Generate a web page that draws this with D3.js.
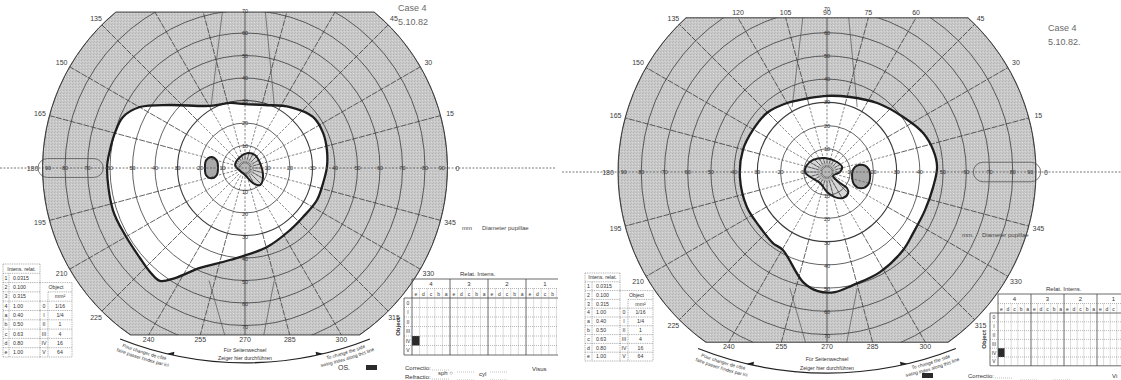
<!DOCTYPE html>
<html>
<head>
<meta charset="utf-8">
<script src="https://cdn.jsdelivr.net/npm/d3@7"></script>
<style>
  body { margin: 0; background: #fff; }
  svg { display: block; font-family: "Liberation Sans", Arial, sans-serif; }
</style>
</head>
<body>
<svg id="sheet" width="1121" height="380"></svg>
<script>
// ---------- Goldmann grid ----------
const ringDeg = [10, 20, 30, 40, 50, 60, 70, 80, 90];
const meridianDeg = d3.range(0, 360, 15);
const horizRingLabels = [10, 20, 30, 40, 50, 60, 70, 80, 90];
const vertRingLabels = [10, 20, 30, 40, 50, 60, 70];

// ---------- Case text ----------
const caseTitle = "Case 4";
const caseDateOS = "5.10.82";
const caseDateOD = "5.10.82.";

// ---------- Isopters and scotomas, [horizontal deg, vertical deg] ----------
const osIsopter = [
  [-61.3, 0], [-60, 8], [-57.8, 15.6], [-54.2, 22.7], [-46.7, 27.1], [-33.3, 28],
  [-15.6, 27.6], [-6.7, 28.9], [0, 28.4], [8.9, 28], [20, 27.1], [30.2, 22.7],
  [34.7, 15.6], [36.4, 8], [36.4, 0.4], [34.7, -6.7], [32, -14.2], [25.8, -21.8],
  [20, -27.6], [9.8, -35.1], [-6.7, -40.9], [-20, -44.4], [-31.1, -48.9],
  [-37.8, -50.2], [-42.2, -46.2], [-46.7, -40], [-53.3, -29.8], [-58.7, -18.7]
];
const osBlindSpot = [
  [-17.8, 0.2], [-17.3, 3.4], [-14.9, 4.9], [-12.6, 3.4], [-12.0, 0.2],
  [-12.6, -3.2], [-14.9, -4.6], [-17.3, -3.2]
];
const osCentralScotoma = [
  [-4.4, 1.3], [-2.2, 4.9], [1.3, 6.7], [4.4, 5.8], [6.7, 2.2], [8.0, -4.0],
  [6.7, -7.6], [3.6, -6.7], [0, -3.1], [-3.6, 0]
];

const odIsopter = [
  [0, 32.8], [9.9, 32.3], [21.6, 29.7], [32.8, 23.7], [41.4, 16.8], [45.7, 9.5],
  [47.4, 2.2], [45.7, -6.5], [42.2, -16.4], [37.1, -26.3], [32.8, -33.6],
  [22.8, -43.1], [11.2, -48.7], [3.4, -51.7], [-3.9, -51.3], [-10.3, -47.4],
  [-19.0, -33.6], [-23.3, -30.6], [-28.9, -23.7], [-34.5, -15.1], [-37.5, -2.2],
  [-36.2, 9.5], [-31.9, 18.1], [-25.9, 25.4], [-17.2, 29.7], [-7.3, 31.9]
];
const odBlindSpot = [
  [10.8, -1.9], [11.5, 1.5], [14.7, 3.1], [17.8, 1.5], [18.6, -1.9],
  [17.6, -5.5], [14.7, -7.0], [11.8, -5.5]
];
const odCentralScotoma = [
  [-9.5, 0], [-8.6, 3.0], [-6.0, 5.2], [-0.9, 6.0], [4.3, 4.3], [6.5, 2.2],
  [5.6, 0], [2.6, -1.7], [5.6, -4.7], [8.6, -6.9], [9.1, -9.1], [6.9, -11.2],
  [3.4, -10.8], [0, -8.6], [-3.0, -4.7], [-6.5, -2.6]
];

// ---------- Test-object tables ----------
const filterRows = [["1", "0.0315"], ["2", "0.100"], ["3", "0.315"], ["4", "1.00"],
  ["a", "0.40"], ["b", "0.50"], ["c", "0.63"], ["d", "0.80"], ["e", "1.00"]];
const objectRows = [["0", "1/16"], ["I", "1/4"], ["II", "1"], ["III", "4"], ["IV", "16"], ["V", "64"]];
const intensityGroups = ["4", "3", "2", "1"];
const intensitySteps = ["e", "d", "c", "b", "a"];
const objectSizes = ["0", "I", "II", "III", "IV", "V"];
const testedOS = [["IV", "4", "e"]];
const testedOD = [["IV", "4", "e"]];

// ---------------------------------------------------------------
const svg = d3.select("#sheet");
const defs = svg.append("defs");
const INK = "#3c3c3c";

// fine halftone grey of the printed periphery
const pat = defs.append("pattern").attr("id", "stipple")
  .attr("width", 3).attr("height", 3).attr("patternUnits", "userSpaceOnUse");
pat.append("rect").attr("width", 3).attr("height", 3).attr("fill", "#c9c9c9");
pat.append("rect").attr("width", 1).attr("height", 1).attr("fill", "#b3b3b3");
pat.append("rect").attr("x", 2).attr("y", 1).attr("width", 1).attr("height", 1).attr("fill", "#d8d8d8");
pat.append("rect").attr("x", 1).attr("y", 2).attr("width", 1).attr("height", 1).attr("fill", "#bcbcbc");

function drawChart(L, D) {
  const g = svg.append("g");
  const x = d3.scaleLinear().domain([-90, 90]).range([L.cx - L.R, L.cx + L.R]);
  const y = d3.scaleLinear().domain([-90, 90]).range([L.cy + L.R, L.cy - L.R]);
  const k = L.R / 90;
  const yt = y(L.top), yb = y(-L.bottom);
  const wt = Math.sqrt(L.R * L.R - (L.cy - yt) ** 2);
  const wb = Math.sqrt(L.R * L.R - (yb - L.cy) ** 2);
  const shape = `M${L.cx - wt},${yt}L${L.cx + wt},${yt}A${L.R},${L.R} 0 0 1 ${L.cx + wb},${yb}` +
    `L${L.cx - wb},${yb}A${L.R},${L.R} 0 0 1 ${L.cx - wt},${yt}Z`;
  defs.append("clipPath").attr("id", "clip" + L.id).append("path").attr("d", shape);

  const smooth = d3.line().x(d => x(d[0])).y(d => y(d[1]))
    .curve(d3.curveCatmullRomClosed.alpha(0.5));

  g.append("path").attr("d", shape).attr("fill", "url(#stipple)");
  const inner = g.append("g").attr("clip-path", `url(#clip${L.id})`);

  // seeing area inside the isopter
  inner.append("path").attr("d", smooth(D.isopter)).attr("fill", "#fff");

  // blind spot
  inner.append("path").attr("d", smooth(D.blind)).attr("fill", "#a9a9a9");

  // central scotoma: pale fill, radial hatching, grey fixation disk
  const scId = "sc" + L.id;
  defs.append("clipPath").attr("id", scId).append("path").attr("d", smooth(D.central));
  inner.append("path").attr("d", smooth(D.central)).attr("fill", "#d6d6d6");
  const hatch = inner.append("g").attr("clip-path", `url(#${scId})`);
  d3.range(0, 360, 15).forEach(a => {
    const r = a * Math.PI / 180;
    hatch.append("line")
      .attr("x1", x(3.5 * Math.cos(r))).attr("y1", y(3.5 * Math.sin(r)))
      .attr("x2", x(14 * Math.cos(r))).attr("y2", y(14 * Math.sin(r)))
      .attr("stroke", "#5a5a5a").attr("stroke-width", 0.7);
  });
  hatch.append("circle").attr("cx", x(0)).attr("cy", y(0)).attr("r", 4.2 * k)
    .attr("fill", "#b8b8b8");

  // rings
  inner.selectAll("circle.ring").data(ringDeg).join("circle")
    .attr("class", "ring").attr("cx", L.cx).attr("cy", L.cy)
    .attr("r", d => x(d) - L.cx).attr("fill", "none")
    .attr("stroke", INK).attr("stroke-width", d => d === 30 ? 1.1 : 0.8);

  // meridians: short dashes in the central 30 degrees, long dashes beyond
  meridianDeg.filter(a => a % 180 !== 0).forEach(a => {
    const r = a * Math.PI / 180, c = Math.cos(r), s = Math.sin(r);
    inner.append("line")
      .attr("x1", x(2 * c)).attr("y1", y(2 * s)).attr("x2", x(30 * c)).attr("y2", y(30 * s))
      .attr("stroke", "#555").attr("stroke-width", 0.7).attr("stroke-dasharray", "2.5,1.5");
    inner.append("line")
      .attr("x1", x(30 * c)).attr("y1", y(30 * s)).attr("x2", x(95 * c)).attr("y2", y(95 * s))
      .attr("stroke", INK).attr("stroke-width", 0.8)
      .attr("stroke-dasharray", a % 90 === 0 ? null : "6,1.2");
  });

  // oblique guide lines above and below fixation
  [[-15, 28, -10, 70], [13, 28, 9, 70], [-16, -50, -8.5, -76], [13, -50, 8, -76]].forEach(l => {
    inner.append("line").attr("x1", x(l[0])).attr("y1", y(l[1]))
      .attr("x2", x(l[2])).attr("y2", y(l[3]))
      .attr("stroke", "#555").attr("stroke-width", 0.7);
  });

  // temporal marker capsule on the horizontal meridian
  const capX0 = L.temporal > 0 ? 63 : -92;
  g.append("rect").attr("x", x(capX0)).attr("y", y(4.2))
    .attr("width", x(29) - x(0)).attr("height", y(-4.2) - y(4.2))
    .attr("rx", (y(-4.2) - y(4.2)) / 2)
    .attr("fill", "none").attr("stroke", "#555").attr("stroke-width", 0.8);

  // horizontal meridian, dotted and extended past the chart
  g.append("line").attr("x1", L.hx0).attr("x2", L.hx1).attr("y1", L.cy).attr("y2", L.cy)
    .attr("stroke", "#555").attr("stroke-width", 0.8).attr("stroke-dasharray", "2,1.5");

  // isopter and scotoma outlines
  inner.append("path").attr("d", smooth(D.isopter)).attr("fill", "none")
    .attr("stroke", "#1e1e1e").attr("stroke-width", 2.3);
  inner.append("path").attr("d", smooth(D.blind)).attr("fill", "none")
    .attr("stroke", "#1e1e1e").attr("stroke-width", 2);
  inner.append("path").attr("d", smooth(D.central)).attr("fill", "none")
    .attr("stroke", "#1e1e1e").attr("stroke-width", 2);

  // chart border
  g.append("path").attr("d", shape).attr("fill", "none")
    .attr("stroke", INK).attr("stroke-width", 1);

  // ring numbers on the horizontal and vertical meridians
  const ringTxt = g.append("g").attr("font-size", 5.5).attr("fill", "#333")
    .attr("text-anchor", "middle");
  horizRingLabels.forEach(d => {
    const dd = d === 90 ? 87.5 : d;
    [-1, 1].forEach(sgn => ringTxt.append("text")
      .attr("x", x(sgn * dd)).attr("y", L.cy + 2).text(d));
  });
  vertRingLabels.forEach(d => {
    ringTxt.append("text").attr("x", L.cx).attr("y", y(d) + 2).text(d);
    ringTxt.append("text").attr("x", L.cx).attr("y", y(-d) + 3).text(d);
  });

  // meridian angles around the border
  const angTxt = g.append("g").attr("font-size", 7).attr("fill", "#3a3a3a")
    .attr("text-anchor", "middle");
  meridianDeg.forEach(a => {
    const r = a * Math.PI / 180, c = Math.cos(r), s = Math.sin(r);
    let px, py;
    if (s * 90 > L.top + 0.01) {
      if (!L.topLabels) return;
      px = x(L.top * c / s); py = yt - 3;
    } else if (s * 90 < -L.bottom - 0.01) {
      px = x(-L.bottom * c / s); py = yb + 7;
    } else {
      const rr = L.R + 4 + 6 * Math.abs(c);
      px = L.cx + rr * c; py = L.cy - rr * s + 2.5;
    }
    angTxt.append("text").attr("x", px).attr("y", py).text(a);
  });

  // side-change arc below the chart
  const hw = 55.5 * k, sag = 10.6 * k;
  const Ra = (hw * hw + sag * sag) / (2 * sag);
  const acx = L.cx, acy = y(-86.6) - Ra;
  const arcAt = (r, psi) => [acx + r * Math.sin(psi), acy + r * Math.cos(psi)];
  const phi = Math.asin(hw / Ra);
  const pL = arcAt(Ra, -phi), pR = arcAt(Ra, phi);
  g.append("path").attr("d", `M${pL[0]},${pL[1]}A${Ra},${Ra} 0 0 0 ${pR[0]},${pR[1]}`)
    .attr("fill", "none").attr("stroke", "#222").attr("stroke-width", 1.3);
  [-1, 1].forEach(sgn => {
    const psi = sgn * Math.asin(33 * k / Ra);
    const p = arcAt(Ra, psi);
    const rot = -psi * 180 / Math.PI;
    g.append("path").attr("d", sgn < 0 ? "M-4,0L3,-3.5L3,0Z" : "M4,0L-3,-3.5L-3,0Z")
      .attr("transform", `translate(${p[0]},${p[1]}) rotate(${rot})`)
      .attr("fill", "#1e1e1e");
  });
  [6.5, 12.5].forEach((off, i) => {
    const r = Ra + off, ext = phi + 0.06;
    const a = arcAt(r, -ext), b = arcAt(r, ext);
    defs.append("path").attr("id", `arcTxt${L.id}${i}`)
      .attr("d", `M${a[0]},${a[1]}A${r},${r} 0 0 0 ${b[0]},${b[1]}`);
  });
  const arcLines = [
    ["Pour changer de côté", "To change the side"],
    ["faire passer l'index par ici", "swing index along this line"]
  ];
  arcLines.forEach((pair, i) => {
    pair.forEach((t, j) => {
      g.append("text").attr("font-size", 4.8).attr("fill", "#333")
        .append("textPath").attr("href", `#arcTxt${L.id}${i}`)
        .attr("startOffset", j === 0 ? "16%" : "84%").attr("text-anchor", "middle")
        .text(t);
    });
  });
  g.append("text").attr("x", L.cx).attr("y", y(-81.6)).attr("font-size", 5.2)
    .attr("text-anchor", "middle").attr("fill", "#333").text("Für Seitenwechsel");
  g.append("text").attr("x", L.cx).attr("y", y(-85.4)).attr("font-size", 5.2)
    .attr("text-anchor", "middle").attr("fill", "#333").text("Zeiger hier durchführen");
}

function drawFilterTable(T) {
  const g = svg.append("g").attr("font-size", 5.2).attr("fill", "#333");
  const cols = T.cols.map(c => T.x + c);
  const rowY = i => T.y + i * T.rowH;
  const dotted = (x1, y1, x2, y2) => g.append("line")
    .attr("x1", x1).attr("y1", y1).attr("x2", x2).attr("y2", y2)
    .attr("stroke", "#777").attr("stroke-width", 0.6).attr("stroke-dasharray", "1,0.8");
  // intensity part: header + 9 rows
  for (let i = 0; i <= 10; i++) dotted(cols[0], rowY(i), cols[2], rowY(i));
  dotted(cols[0], rowY(0), cols[0], rowY(10));
  dotted(cols[1], rowY(1), cols[1], rowY(10));
  dotted(cols[2], rowY(0), cols[2], rowY(10));
  g.append("text").attr("x", (cols[0] + cols[2]) / 2).attr("y", rowY(0) + T.rowH * 0.7)
    .attr("text-anchor", "middle").text("Intens. relat.");
  filterRows.forEach((r, i) => {
    g.append("text").attr("x", (cols[0] + cols[1]) / 2).attr("y", rowY(i + 1) + T.rowH * 0.7)
      .attr("text-anchor", "middle").text(r[0]);
    g.append("text").attr("x", cols[1] + 4).attr("y", rowY(i + 1) + T.rowH * 0.7).text(r[1]);
  });
  // object part: header over rows 2-3, sizes on rows 4-9
  dotted(cols[2], rowY(2), cols[4], rowY(2));
  dotted(cols[4], rowY(2), cols[4], rowY(10));
  for (let i = 4; i <= 10; i++) dotted(cols[2], rowY(i), cols[4], rowY(i));
  dotted(cols[3], rowY(3), cols[3], rowY(10));
  dotted(cols[3], rowY(3), cols[4], rowY(3));
  g.append("text").attr("x", (cols[2] + cols[4]) / 2).attr("y", rowY(2) + T.rowH * 0.7)
    .attr("text-anchor", "middle").text("Object");
  g.append("text").attr("x", (cols[3] + cols[4]) / 2).attr("y", rowY(3) + T.rowH * 0.7)
    .attr("text-anchor", "middle").text("mm²");
  objectRows.forEach((r, i) => {
    g.append("text").attr("x", (cols[2] + cols[3]) / 2).attr("y", rowY(i + 4) + T.rowH * 0.7)
      .attr("text-anchor", "middle").text(r[0]);
    g.append("text").attr("x", (cols[3] + cols[4]) / 2).attr("y", rowY(i + 4) + T.rowH * 0.7)
      .attr("text-anchor", "middle").text(r[1]);
  });
}

function drawIntensityGrid(G, tested) {
  const outer = svg.append("g");
  defs.append("clipPath").attr("id", "gclip" + G.id).append("rect")
    .attr("x", 0).attr("y", 0).attr("width", G.clipX).attr("height", 380);
  outer.attr("clip-path", `url(#gclip${G.id})`);
  const g = outer.append("g").attr("fill", "#333");
  const cols = intensityGroups.flatMap(gr => intensitySteps.map(st => gr + st));
  const xb = d3.scaleBand().domain(cols).range([G.x0, G.x0 + cols.length * G.colW]);
  const yb = d3.scaleBand().domain(objectSizes).range([G.rowTop, G.rowTop + objectSizes.length * G.rowH]);
  const xEnd = G.x0 + cols.length * G.colW;
  const yTopGroups = G.rowTop - 2 * G.hdrH, yTopSteps = G.rowTop - G.hdrH;
  const yEnd = G.rowTop + objectSizes.length * G.rowH;
  const ln = (x1, y1, x2, y2, solid) => g.append("line")
    .attr("x1", x1).attr("y1", y1).attr("x2", x2).attr("y2", y2)
    .attr("stroke", solid ? "#444" : "#888").attr("stroke-width", solid ? 0.8 : 0.6)
    .attr("stroke-dasharray", solid ? null : "1,1");

  g.append("text").attr("x", G.x0 + 48).attr("y", yTopGroups - 3).attr("font-size", 6)
    .text("Relat.  Intens.");
  // tested cells
  tested.forEach(t => {
    g.append("rect").attr("x", xb(t[1] + t[2])).attr("y", yb(t[0]))
      .attr("width", xb.bandwidth()).attr("height", yb.bandwidth()).attr("fill", "#2a2a2a");
  });
  // horizontal rules
  ln(G.x0, yTopGroups, xEnd, yTopGroups, true);
  ln(G.x0, yTopSteps, xEnd, yTopSteps, false);
  ln(G.labX, G.rowTop, xEnd, G.rowTop, true);
  objectSizes.forEach((o, i) => { if (i > 0) ln(G.labX, yb(o), xEnd, yb(o), false); });
  ln(G.labX, yEnd, xEnd, yEnd, true);
  // vertical rules
  cols.forEach((c, i) => ln(xb(c), i % 5 === 0 ? yTopGroups : yTopSteps, xb(c), yEnd, i % 5 === 0));
  ln(xEnd, yTopGroups, xEnd, yEnd, true);
  ln(G.labX, G.rowTop, G.labX, yEnd, true);
  // labels
  intensityGroups.forEach(gr => g.append("text")
    .attr("x", xb(gr + "e") + 2.5 * G.colW).attr("y", yTopGroups + G.hdrH * 0.75)
    .attr("font-size", 6).attr("text-anchor", "middle").text(gr));
  cols.filter(c => xb(c) + G.colW <= G.clipX).forEach(c => g.append("text")
    .attr("x", xb(c) + G.colW / 2)
    .attr("y", yTopSteps + G.hdrH * 0.75).attr("font-size", 5)
    .attr("text-anchor", "middle").text(c[1]));
  objectSizes.forEach(o => g.append("text").attr("x", (G.labX + G.x0) / 2)
    .attr("y", yb(o) + G.rowH * 0.72).attr("font-size", 5).attr("text-anchor", "middle").text(o));
  g.append("text").attr("transform", `translate(${G.labX - 4},${(G.rowTop + yEnd) / 2}) rotate(-90)`)
    .attr("font-size", 6).attr("font-weight", "bold").attr("text-anchor", "middle").text("Object");
}

function drawFooter(F) {
  const g = svg.append("g").attr("fill", "#333").attr("font-size", 6);
  if (F.eye) g.append("text").attr("x", F.eyeX).attr("y", F.y).attr("font-size", 7).text(F.eye);
  g.append("rect").attr("x", F.markX).attr("y", F.y - 5).attr("width", 11).attr("height", 5)
    .attr("fill", "#2a2a2a");
  g.append("text").attr("x", F.x).attr("y", F.y).text("Correctio:");
  g.append("text").attr("x", F.visusX).attr("y", F.y + (F.full ? 1 : 0)).text(F.full ? "Visus" : "Vi");
  const leaders = [[F.x + 27, F.x + 45, F.y], [F.x + 52, F.x + 70, F.y + 2], [F.x + 85, F.x + 103, F.y + 2]];
  if (F.full) {
    g.append("text").attr("x", F.x + 33).attr("y", F.y + 5).text("sph ○");
    g.append("text").attr("x", F.x + 74).attr("y", F.y + 6).text("cyl");
    g.append("text").attr("x", F.x).attr("y", F.y + 9).text("Refractio:");
    leaders.push([F.x + 27, F.x + 45, F.y + 9], [F.x + 52, F.x + 70, F.y + 10], [F.x + 85, F.x + 103, F.y + 10]);
  }
  leaders.forEach(s => g.append("line").attr("x1", s[0]).attr("x2", s[1]).attr("y1", s[2]).attr("y2", s[2])
    .attr("stroke", "#999").attr("stroke-width", 0.6).attr("stroke-dasharray", "1,1"));
}

function drawNotes(N) {
  const g = svg.append("g").attr("fill", "#6a6a6a");
  g.append("text").attr("x", N.caseX).attr("y", N.caseY).attr("font-size", 9).text(caseTitle);
  g.append("text").attr("x", N.caseX).attr("y", N.caseY + 14).attr("font-size", 9).text(N.date);
  g.append("text").attr("x", N.pupX).attr("y", N.pupY).attr("font-size", 6).attr("fill", "#444").text(N.mm);
  g.append("text").attr("x", N.pupX + 20).attr("y", N.pupY).attr("font-size", 6).attr("fill", "#444")
    .text("Diameter pupillae");
}

// ---------- left eye sheet ----------
drawChart({ id: "OS", cx: 245, cy: 168, R: 202.5, top: 69.3, bottom: 74.2,
  topLabels: false, temporal: -1, hx0: 0, hx1: 556 },
  { isopter: osIsopter, blind: osBlindSpot, central: osCentralScotoma });
drawFilterTable({ x: 3, y: 264, rowH: 9.3, cols: [0, 6, 37, 45, 69] });
drawIntensityGrid({ id: "OS", labX: 404, x0: 412, colW: 7.6, hdrH: 9.5, rowTop: 298, rowH: 9.5, clipX: 558 }, testedOS);
drawFooter({ eye: "OS.", eyeX: 338, markX: 366, x: 405, y: 370, visusX: 532, full: true });
drawNotes({ caseX: 398, caseY: 11, date: caseDateOS, pupX: 462, pupY: 230, mm: "mm" });

// ---------- right eye sheet ----------
drawChart({ id: "OD", cx: 827, cy: 172, R: 209, top: 66.4, bottom: 73.3,
  topLabels: true, temporal: 1, hx0: 562, hx1: 1121 },
  { isopter: odIsopter, blind: odBlindSpot, central: odCentralScotoma });
drawFilterTable({ x: 585, y: 273, rowH: 8.8, cols: [0, 7, 35, 43, 68] });
drawIntensityGrid({ id: "OD", labX: 990, x0: 998, colW: 6.6, hdrH: 9.5, rowTop: 313, rowH: 8.8, clipX: 1121 }, testedOD);
drawFooter({ eye: null, markX: 922, x: 968, y: 378, visusX: 1112, full: false });
drawNotes({ caseX: 1048, caseY: 31, date: caseDateOD, pupX: 962, pupY: 237, mm: "mm." });
</script>
</body>
</html>
